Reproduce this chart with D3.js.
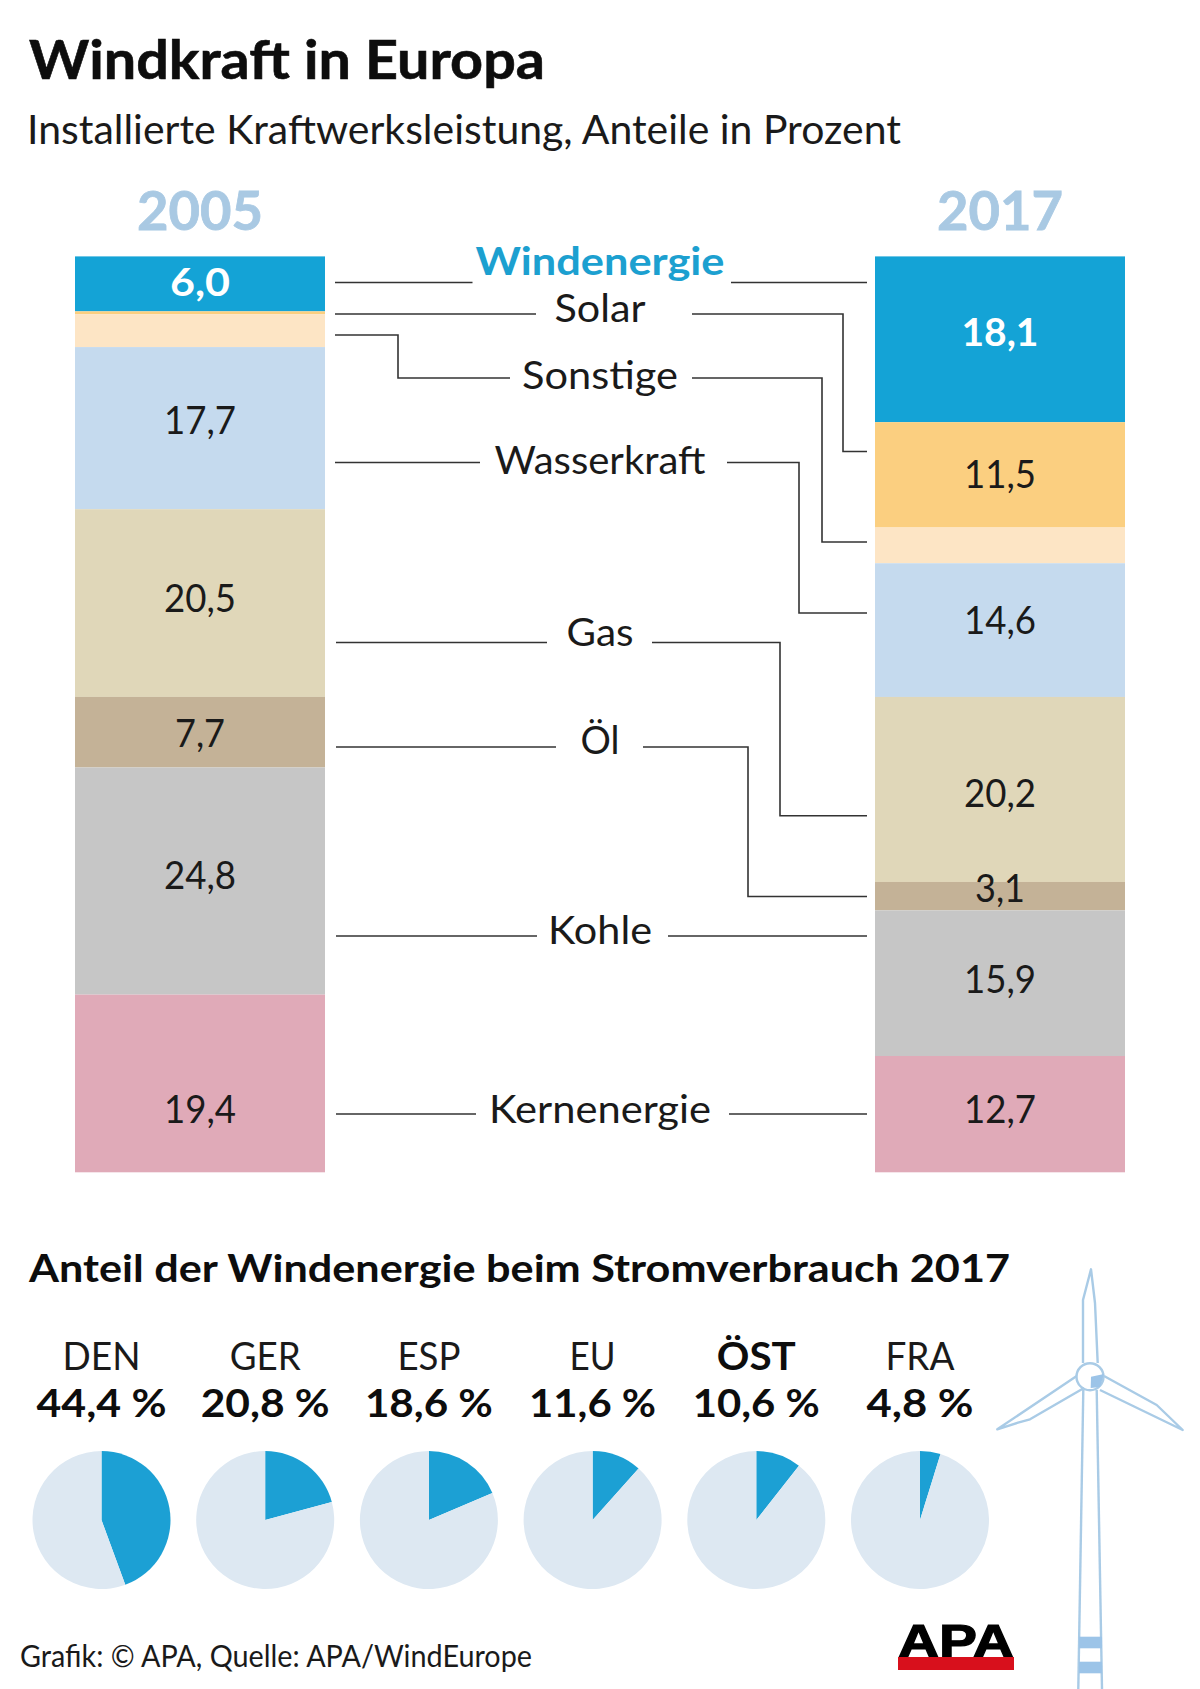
<!DOCTYPE html>
<html><head><meta charset="utf-8">
<script src="https://cdn.jsdelivr.net/npm/d3@7"></script>
<style>html,body{margin:0;padding:0;background:#fff}svg{display:block}text{font-family:Lato,"Open Sans",sans-serif;fill:#1a1a1a}</style>
</head><body><div id="c"></div>
<script>
const categories=["Windenergie","Solar","Sonstige","Wasserkraft","Gas","Öl","Kohle","Kernenergie"];
const values2005=[6.0,0.3,3.6,17.7,20.5,7.7,24.8,19.4];
const values2017=[18.1,11.5,3.9,14.6,20.2,3.1,15.9,12.7];
const colors=["#14a3d6","#fbcf80","#fde5c5","#c5daee","#e0d7b9","#c4b297","#c6c6c6","#e0aab8"];
const years=["2005","2017"];
const countries=["DEN","GER","ESP","EU","ÖST","FRA"];
const windShares=[44.4,20.8,18.6,11.6,10.6,4.8];

// layout (separate from the data)
const W=1200,H=1689;
const svg=d3.select("#c").append("svg").attr("width",W).attr("height",H).attr("viewBox",`0 0 ${W} ${H}`);
const y=d3.scaleLinear().domain([0,100]).range([256.4,1172.3]);
const x=d3.scaleBand().domain(years).range([75,1125]).paddingInner(0.6875);
const fmt=v=>v.toFixed(1).replace(".",",");
function T(s,px,py,size,o={}){
  const t=svg.append("text").attr("x",px).attr("y",py).attr("font-size",size)
    .attr("text-anchor",o.anchor||"middle").attr("font-weight",o.bold?700:400).text(s);
  if(o.fill)t.style("fill",o.fill);
  if(o.w)t.attr("textLength",o.w).attr("lengthAdjust","spacingAndGlyphs");
  return t;
}
T("Windkraft in Europa",29,78.5,54,{anchor:"start",bold:1,w:516,fill:"#0d0d0d"}).style("stroke","#0d0d0d").style("stroke-width",0.6);
T("Installierte Kraftwerksleistung, Anteile in Prozent",27,144,40,{anchor:"start",w:874});
const yearBlue="#a9c9e3";
years.forEach(yr=>T(yr,x(yr)+x.bandwidth()/2,230,54,{bold:1,w:126,fill:yearBlue}).style("stroke",yearBlue).style("stroke-width",0.8));

// stacked columns
const labelBase={"2005":[295.5,null,null,434,612,747,889,1123],"2017":[346,488,null,634,807,902,993,1123]};
const labelW={"2005":[60,0,0,72,72,50,72,72],"2017":[77,72,0,72,72,50,72,72]};
[["2005",values2005],["2017",values2017]].forEach(([yr,vals])=>{
  let acc=0;
  const segs=vals.map((v,i)=>{const s={v,i,y0:acc,y1:acc+v};acc+=v;return s;});
  svg.append("g").selectAll("rect").data(segs).join("rect")
    .attr("x",x(yr)).attr("width",x.bandwidth())
    .attr("y",d=>y(d.y0)).attr("height",d=>y(d.y1)-y(d.y0))
    .attr("fill",d=>colors[d.i]);
  segs.forEach(d=>{
    if(labelBase[yr][d.i]==null)return;
    T(fmt(d.v),x(yr)+x.bandwidth()/2,labelBase[yr][d.i],39,{bold:d.i===0,w:labelW[yr][d.i],fill:d.i===0?"#fff":"#1a1a1a"});
  });
});

// category labels
const catBase=[274.5,322,389,474,646,754,943.5,1123];
const catW=[249,91,156,211,67,39,104,222];
categories.forEach((c,i)=>T(c,600,catBase[i],39,{bold:i===0,w:catW[i],fill:i===0?"#1ca0d0":"#1a1a1a"}));

// leader lines
const leaders=[
 [[335,282.5],[472.5,282.5]],[[731,282.5],[867,282.5]],
 [[335,314],[536,314]],[[692,314],[843,314],[843,451.5],[867,451.5]],
 [[335,335],[398,335],[398,378],[510,378]],[[692,378],[822,378],[822,542],[867,542]],
 [[335,462.5],[480,462.5]],[[727,462.5],[799,462.5],[799,613],[867,613]],
 [[336,642.5],[547,642.5]],[[652,642.5],[780,642.5],[780,815.7],[867,815.7]],
 [[336,747],[556,747]],[[643,747],[748,747],[748,896.5],[867,896.5]],
 [[336,936],[537,936]],[[668,936],[867,936]],
 [[336,1114],[476,1114]],[[729,1114],[867,1114]]
];
const line=d3.line();
svg.append("g").selectAll("path").data(leaders).join("path")
  .attr("d",d=>line(d)).attr("fill","none").attr("stroke","#333").attr("stroke-width",1.6);

// lower section
T("Anteil der Windenergie beim Stromverbrauch 2017",29,1281.5,38,{anchor:"start",bold:1,w:981,fill:"#0d0d0d"});
const px=d3.scalePoint().domain(countries).range([101.5,920]);
const cW=[78,71,63,46,79,69], vW=[130,129,128,127,127,107];
const pie=d3.pie().sort(null).value(d=>d);
const arc=d3.arc().innerRadius(0).outerRadius(69);
countries.forEach((c,i)=>{
  const cx=px(c);
  T(c,cx,1370,38,{bold:c==="ÖST",w:cW[i],fill:c==="ÖST"?"#0d0d0d":"#1a1a1a"});
  T(fmt(windShares[i])+" %",cx,1417,38,{bold:1,w:vW[i],fill:"#0d0d0d"});
  svg.append("g").attr("transform",`translate(${cx},1520)`)
    .selectAll("path").data(pie([windShares[i],100-windShares[i]])).join("path")
    .attr("d",arc).attr("fill",(d,j)=>j===0?"#1ca0d4":"#dde8f2");
});
T("Grafik: © APA, Quelle: APA/WindEurope",20,1666.5,30,{anchor:"start",w:512});

// wind turbine illustration
const tb=svg.append("g").attr("fill","none").attr("stroke","#a9cbe6").attr("stroke-width",2.4).attr("stroke-linejoin","round");
const bandFill="#9cc4e8";
[[1636.7,11.6],[1661.7,11.6]].forEach(([by,bh])=>svg.append("rect").attr("x",1079).attr("y",by).attr("width",23).attr("height",bh).attr("fill",bandFill));
svg.append("path").attr("d",line([[1091,1376.7],[1104,1374],[1100,1387],[1090.7,1388]])+"Z").attr("fill",bandFill);
tb.append("path").attr("d",line([[1083,1363],[1083,1300],[1091,1269.3],[1095,1303],[1097.7,1363]]));
tb.append("path").attr("d",line([[1076.7,1376],[997.3,1429.3],[1018,1422.7],[1030,1419.3],[1084,1388]]));
tb.append("path").attr("d",line([[1104,1376],[1156.7,1405],[1182.7,1430],[1100,1390]]));
tb.append("path").attr("d",line([[1083.3,1390],[1078.3,1689]]));
tb.append("path").attr("d",line([[1096.7,1390],[1102,1689]]));
tb.append("circle").attr("cx",1090).attr("cy",1376.7).attr("r",13.5);

// APA logo
T("APA",956,1657,47,{bold:1,w:116,fill:"#000"}).style("font-family","'Liberation Sans',sans-serif").style("stroke","#000").style("stroke-width",1.2);
svg.append("rect").attr("x",898).attr("y",1657).attr("width",116).attr("height",13).attr("fill","#d8101c");
</script></body></html>
